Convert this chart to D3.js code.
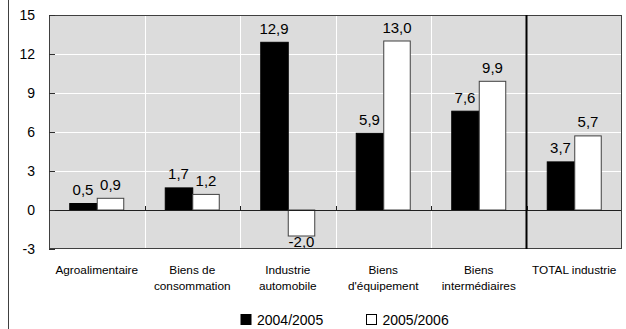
<!DOCTYPE html>
<html>
<head>
<meta charset="utf-8">
<script src="https://cdn.jsdelivr.net/npm/d3@7"></script>
<style>
  html, body { margin: 0; padding: 0; background: #ffffff; }
  svg { display: block; font-family: "Liberation Sans", Arial, sans-serif; }
</style>
</head>
<body>
<svg id="chart" width="626" height="329"></svg>
<script>
// Industrial production change (%) by sector
const categories = [
  ["Agroalimentaire"],
  ["Biens de", "consommation"],
  ["Industrie", "automobile"],
  ["Biens", "d'équipement"],
  ["Biens", "intermédiaires"],
  ["TOTAL industrie"]
];
const seriesNames = ["2004/2005", "2005/2006"];
const values2004_2005 = [0.5, 1.7, 12.9, 5.9, 7.6, 3.7];
const values2005_2006 = [0.9, 1.2, -2.0, 13.0, 9.9, 5.7];
const yTicks = [-3, 0, 3, 6, 9, 12, 15];

const seriesValues = [values2004_2005, values2005_2006];
const seriesFill = ["#000000", "#ffffff"];
const seriesStroke = ["#000000", "#404040"];

const svg = d3.select("#chart");
const plotLeft = 49, plotRight = 622, plotTop = 15, plotBottom = 249;

const keys = categories.map((c, i) => i);
const x = d3.scaleBand().domain(keys).range([plotLeft, plotRight]).padding(0);
const barW = 27.5;
const xInner = d3.scaleBand().domain(seriesNames).range([0, barW * 2]);
const y = d3.scaleLinear().domain([-3, 15]).range([plotBottom, plotTop]);

// French decimal comma, plain hyphen for negatives
const fmt = v => (v < 0 ? "-" : "") + Math.abs(v).toFixed(1).replace(".", ",");
const fmtTick = v => (v < 0 ? "-" : "") + Math.abs(v);

// Outer frame line on the left
svg.append("line")
  .attr("x1", 8.5).attr("x2", 8.5).attr("y1", 0).attr("y2", 329)
  .attr("stroke", "#404040").attr("stroke-width", 1);

// Plot background
svg.append("rect")
  .attr("x", plotLeft).attr("y", plotTop)
  .attr("width", plotRight - plotLeft).attr("height", plotBottom - plotTop)
  .attr("fill", "#dcdcdc");

// Horizontal gridlines
svg.append("g").selectAll("line")
  .data(yTicks.filter(t => t > 0 && t < 15))
  .join("line")
  .attr("x1", plotLeft).attr("x2", plotRight)
  .attr("y1", d => Math.round(y(d)) + 0.5).attr("y2", d => Math.round(y(d)) + 0.5)
  .attr("stroke", "#ffffff").attr("stroke-width", 1);

// Vertical separators between categories
const boundaries = keys.slice(1).map(k => x(k));
svg.append("g").selectAll("line")
  .data(boundaries.slice(0, -1))
  .join("line")
  .attr("x1", d => Math.round(d) + 0.5).attr("x2", d => Math.round(d) + 0.5)
  .attr("y1", plotTop).attr("y2", plotBottom)
  .attr("stroke", "#ffffff").attr("stroke-width", 1);

// Bars
const groups = svg.append("g").selectAll("g")
  .data(keys)
  .join("g")
  .attr("transform", k => `translate(${x(k) + x.bandwidth() / 2 - barW},0)`);

seriesNames.forEach((s, si) => {
  groups.append("rect")
    .attr("x", k => xInner(s) + 0.5)
    .attr("width", xInner.bandwidth() - (si === 1 ? 1 : 0))
    .attr("y", k => y(Math.max(0, seriesValues[si][k])))
    .attr("height", k => Math.abs(y(seriesValues[si][k]) - y(0)))
    .attr("fill", seriesFill[si])
    .attr("stroke", seriesStroke[si])
    .attr("stroke-width", 1);
});

// Zero line
svg.append("line")
  .attr("x1", plotLeft).attr("x2", plotRight)
  .attr("y1", Math.round(y(0)) + 0.5).attr("y2", Math.round(y(0)) + 0.5)
  .attr("stroke", "#202020").attr("stroke-width", 1);

// Category ticks on the zero line
svg.append("g").selectAll("line")
  .data(boundaries)
  .join("line")
  .attr("x1", d => Math.round(d) + 0.5).attr("x2", d => Math.round(d) + 0.5)
  .attr("y1", y(0) - 4).attr("y2", y(0))
  .attr("stroke", "#202020");

// Plot border
svg.append("rect")
  .attr("x", plotLeft + 0.5).attr("y", plotTop + 0.5)
  .attr("width", plotRight - plotLeft - 1).attr("height", plotBottom - plotTop - 1)
  .attr("fill", "none").attr("stroke", "#404040").attr("stroke-width", 1);

// Separator before the total
svg.append("line")
  .attr("x1", x(5)).attr("x2", x(5))
  .attr("y1", plotTop).attr("y2", plotBottom)
  .attr("stroke", "#000000").attr("stroke-width", 2);

// Left axis
const yAxis = d3.axisLeft(y).tickValues(yTicks).tickSize(0).tickPadding(14).tickFormat(fmtTick);
const ya = svg.append("g").attr("transform", `translate(${plotLeft},0)`).call(yAxis);
ya.select(".domain").remove();
ya.selectAll("text").attr("font-size", 14).attr("fill", "#000").attr("font-family", "Liberation Sans, Arial, sans-serif");
// inward tick marks
svg.append("g").selectAll("line")
  .data(yTicks)
  .join("line")
  .attr("x1", plotLeft).attr("x2", plotLeft + 6)
  .attr("y1", d => Math.round(y(d)) + 0.5).attr("y2", d => Math.round(y(d)) + 0.5)
  .attr("stroke", "#303030");

// Value labels
seriesNames.forEach((s, si) => {
  groups.append("text")
    .attr("x", k => xInner(s) + xInner.bandwidth() / 2)
    .attr("y", k => {
      const v = seriesValues[si][k];
      return v >= 0 ? y(v) - 8.5 : y(v) + 11;
    })
    .attr("text-anchor", "middle")
    .attr("font-size", 15)
    .attr("fill", "#000")
    .text(k => fmt(seriesValues[si][k]));
});

// Category labels
const labels = svg.append("g").selectAll("text")
  .data(keys)
  .join("text")
  .attr("x", k => x(k) + x.bandwidth() / 2)
  .attr("y", 274)
  .attr("text-anchor", "middle")
  .attr("font-size", 11.8)
  .attr("fill", "#000");
labels.each(function(k) {
  const t = d3.select(this);
  categories[k].forEach((line, li) => {
    t.append("tspan")
      .attr("x", x(k) + x.bandwidth() / 2)
      .attr("dy", li === 0 ? 0 : 15.5)
      .text(line);
  });
});

// Legend
const legendItems = [
  { name: seriesNames[0], fill: "#000000", stroke: "#000000", x: 241 },
  { name: seriesNames[1], fill: "#ffffff", stroke: "#000000", x: 366.5 }
];
const lg = svg.append("g").selectAll("g").data(legendItems).join("g");
lg.append("rect")
  .attr("x", d => d.x).attr("y", 314.5)
  .attr("width", 10).attr("height", 10)
  .attr("fill", d => d.fill).attr("stroke", d => d.stroke);
lg.append("text")
  .attr("x", d => d.x + 16).attr("y", 325)
  .attr("font-size", 14).attr("fill", "#000")
  .text(d => d.name);
</script>
</body>
</html>
